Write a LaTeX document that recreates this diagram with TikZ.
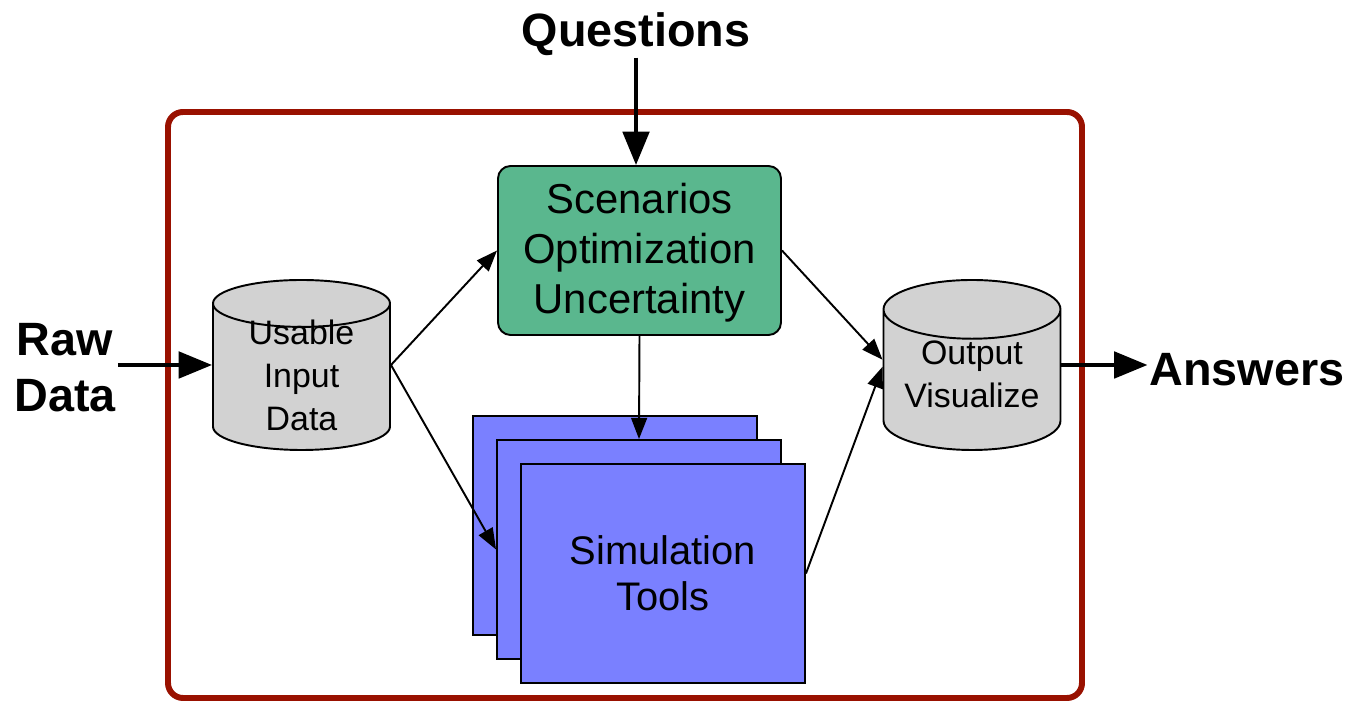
\documentclass[tikz,border=0pt]{standalone}
\usepackage{fontspec}
\setmainfont{Liberation Sans}
\usetikzlibrary{shapes.geometric,arrows.meta}
\definecolor{framered}{RGB}{153,17,0}
\definecolor{scengreen}{RGB}{90,183,142}
\definecolor{simblue}{RGB}{122,128,255}
\definecolor{dbgray}{RGB}{210,210,210}
% shift a block of centred lines without changing the node size
\newcommand{\liftup}[2]{\raisebox{#1}[\height][\depth]{\begin{tabular}{@{}c@{}}#2\end{tabular}}}
% centred lines that take no height, so the cylinder keeps its minimum size
\newcommand{\flatlines}[2]{\raisebox{#1}[0pt][0pt]{\begin{tabular}{@{}c@{}}#2\end{tabular}}}
\begin{document}
\begin{tikzpicture}[
	biglabel/.style={font=\fontsize{26.6}{32}\selectfont\bfseries, align=center, inner sep=1pt},
	thinarrow/.style={line width=1.1pt, -{Triangle[length=12pt,width=9pt]}},
	thickarrow/.style={line width=2.3pt, -{Triangle[length=19pt,width=15pt]}},
	database/.style={cylinder, shape border rotate=90, aspect=0.4, draw, line width=1.1pt,
		fill=dbgray, minimum width=3.54cm, minimum height=3.4cm, inner ysep=0pt,
		anchor=shape center, font=\fontsize{19.3}{24.4}\selectfont},
	simbox/.style={draw, line width=1.1pt, fill=simblue, minimum width=5.68cm,
		minimum height=4.38cm, align=center, font=\fontsize{22.7}{26}\selectfont}]
	\useasboundingbox (0,0) rectangle (27.04,14.06);
	% frame
	\draw[framered, line width=3.4pt, rounded corners=0.3cm] (3.36,0.1) rectangle (21.64,11.82);
	% outside labels
	\node[biglabel] (questions) at (12.72,13.38) {Questions};
	\node[biglabel] (rawdata) at (1.3,6.7) {Raw\\Data};
	\node[biglabel] (answers) at (24.94,6.66) {Answers};
	% inside
	\node[draw, line width=1.1pt, fill=scengreen, rounded corners=0.25cm, minimum width=5.66cm,
		minimum height=3.38cm, font=\fontsize{23.8}{28.3}\selectfont]
		(scenarios) at (12.79,9.05) {\liftup{-1.7pt}{Scenarios\\Optimization\\Uncertainty}};
	\node[database] (inputdb) at (6.03,6.76) {\flatlines{-3.8pt}{Usable\\Input\\Data}};
	\node[database] (outputdb) at (19.44,6.76) {\flatlines{-0.6pt}{Output\\Visualize}};
	\node[simbox] (simback) at (12.30,3.55) {};
	\node[simbox] (simmid) at (12.78,3.07) {};
	\node[simbox] (simfront) at (13.26,2.59) {Simulation\\Tools};
	\coordinate (inleft) at (inputdb.shape center -| inputdb.west);
	\coordinate (inright) at (inputdb.shape center -| inputdb.east);
	\coordinate (outleft) at (outputdb.shape center -| outputdb.west);
	\coordinate (outright) at (outputdb.shape center -| outputdb.east);
	% arrows
	\draw[thickarrow] (questions.south) -- (questions.south |- scenarios.north);
	\draw[thickarrow] (rawdata.east |- inleft) -- (inleft);
	\draw[thickarrow] (outright) -- (outright -| answers.west);
	\draw[thinarrow] (inright) -- (scenarios.west);
	\draw[thinarrow] (inright) -- (simmid.west);
	\draw[thinarrow] (scenarios.south) -- (simmid.north);
	\draw[thinarrow] (scenarios.east) -- ([yshift=3pt]outleft);
	\draw[thinarrow] (simfront.east) -- ([yshift=-1pt]outleft);
\end{tikzpicture}
\end{document}
